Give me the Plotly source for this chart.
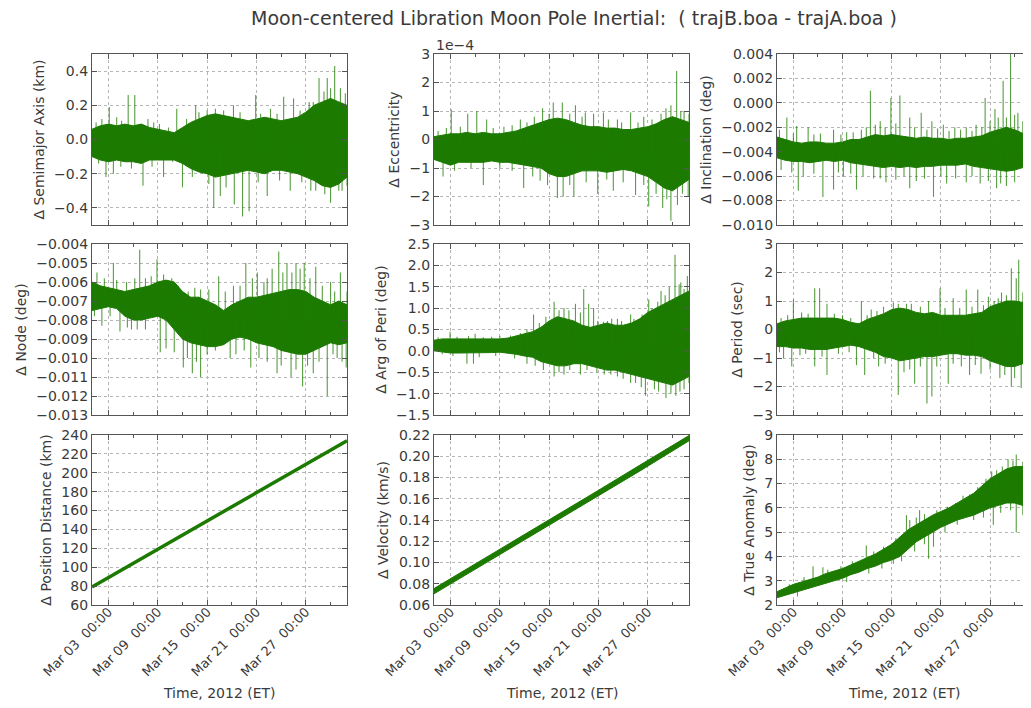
import pandas as pd
import plotly.graph_objects as go
from plotly.subplots import make_subplots

# ---------------- data ----------------
T0 = pd.Timestamp("2012-03-01")          # start of data
band_days = list(range(32))              # day offsets for envelope samples

# Semimajor axis (km)
sma_hi = [0.06, 0.08, 0.09, 0.08, 0.09, 0.08, 0.09, 0.07, 0.06, 0.05, 0.04, 0.07, 0.10, 0.12, 0.14, 0.15,
          0.14, 0.13, 0.12, 0.11, 0.12, 0.13, 0.12, 0.11, 0.12, 0.13, 0.16, 0.20, 0.22, 0.24, 0.22, 0.20]
sma_lo = [-0.10, -0.12, -0.13, -0.12, -0.13, -0.13, -0.14, -0.12, -0.12, -0.12, -0.12, -0.14, -0.17, -0.19, -0.20, -0.22,
          -0.21, -0.20, -0.19, -0.18, -0.19, -0.20, -0.18, -0.18, -0.19, -0.20, -0.22, -0.24, -0.27, -0.28, -0.26, -0.22]
sma_spike_days = [2.1, 4.4, 5.2, 10.3, 12.6, 17.2, 19.9, 21.7, 23.3, 24.5, 26.4, 27.6, 28.6, 29.5, 30.2,
                  1.7, 2.6, 6.2, 8.7, 11.0, 13.4, 14.8, 15.6, 17.3, 18.3, 19.1, 21.3, 24.1, 26.6, 29.0, 30.4,
                  0.5, 1.2, 3.0, 3.6, 6.8, 7.5, 8.2, 9.3, 11.5, 13.0, 14.0, 15.0, 16.0, 18.0, 20.5, 22.5, 25.3,
                  26.9, 28.2, 29.0, 30.8,
                  0.8, 3.5, 4.8, 7.3, 9.8, 12.2, 14.2, 16.3, 20.2, 22.8, 25.5, 27.2, 28.3, 30.0, 31.0]
sma_spike_vals = [0.19, 0.26, 0.26, 0.18, 0.20, 0.20, 0.26, 0.18, 0.25, 0.24, 0.22, 0.36, 0.36, 0.43, 0.30,
                  -0.22, -0.20, -0.27, -0.22, -0.28, -0.20, -0.40, -0.33, -0.38, -0.45, -0.42, -0.33, -0.30, -0.30, -0.37, -0.30,
                  0.10, 0.12, 0.13, 0.11, 0.12, 0.10, 0.09, 0.07, 0.12, 0.16, 0.17, 0.18, 0.17, 0.16, 0.15, 0.15, 0.17,
                  0.22, 0.28, 0.30, 0.27,
                  -0.14, -0.16, -0.17, -0.16, -0.13, -0.22, -0.26, -0.28, -0.25, -0.24, -0.25, -0.30, -0.32, -0.30, -0.27]

# Eccentricity (units of 1e-4)
ecc_hi = [0.10, 0.15, 0.20, 0.20, 0.25, 0.20, 0.25, 0.20, 0.20, 0.25, 0.30, 0.40, 0.50, 0.60, 0.70, 0.75,
          0.70, 0.60, 0.50, 0.45, 0.45, 0.40, 0.40, 0.35, 0.35, 0.40, 0.45, 0.55, 0.70, 0.80, 0.70, 0.60]
ecc_lo = [-0.70, -0.80, -0.90, -0.80, -0.80, -0.80, -0.80, -0.75, -0.80, -0.80, -0.85, -0.90, -0.95, -1.00, -1.20, -1.30,
          -1.30, -1.20, -1.10, -1.10, -1.10, -1.15, -1.10, -1.05, -1.10, -1.20, -1.30, -1.50, -1.70, -1.80, -1.60, -1.40]
ecc_spike_days = [2.1, 4.1, 5.2, 6.4, 10.5, 11.3, 13.2, 14.5, 15.6, 17.2, 18.4, 19.4, 20.6, 22.3, 23.9, 25.5, 27.6, 28.8, 29.5, 30.4,
                  1.1, 6.0, 10.9, 12.9, 15.0, 15.7, 17.0, 19.9, 21.8, 24.5, 26.1, 27.8, 28.8, 29.6, 30.9,
                  0.5, 1.5, 3.2, 7.2, 8.5, 9.5, 12.2, 14.0, 16.5, 18.0, 21.2, 22.8, 24.8, 26.5, 28.2, 30.0, 31.0,
                  2.5, 4.5, 8.0, 9.5, 12.0, 13.8, 16.5, 18.5, 21.0, 23.0, 25.5, 27.0, 28.3, 30.2]
ecc_spike_vals = [1.05, 0.90, 1.00, 0.70, 0.70, 0.60, 1.10, 1.30, 1.30, 1.20, 0.95, 0.90, 0.95, 0.70, 0.95, 0.80, 0.90, 1.20, 2.40, 1.00,
                  -1.30, -1.60, -1.70, -1.45, -2.05, -2.00, -2.00, -1.90, -1.80, -1.95, -2.35, -2.40, -2.85, -2.30, -2.00,
                  0.30, 0.40, 0.45, 0.40, 0.45, 0.50, 0.80, 0.90, 0.90, 0.80, 0.70, 0.60, 0.60, 0.70, 1.10, 1.00, 0.90,
                  -1.10, -1.00, -1.00, -1.10, -1.30, -1.60, -1.60, -1.50, -1.40, -1.50, -1.60, -1.90, -2.10, -1.90]

# Inclination (deg)
inc_hi = [-0.0028, -0.0030, -0.0032, -0.0033, -0.0032, -0.0032, -0.0033, -0.0033, -0.0032, -0.0030, -0.0030,
          -0.0028, -0.0026, -0.0027, -0.0026, -0.0027, -0.0028, -0.0029, -0.0028, -0.0029, -0.0029, -0.0030,
          -0.0029, -0.0029, -0.0028, -0.0027, -0.0024, -0.0022, -0.0020, -0.0022, -0.0025, -0.0027]
inc_lo = [-0.0045, -0.0047, -0.0048, -0.0048, -0.0049, -0.0048, -0.0047, -0.0048, -0.0047, -0.0049, -0.0050,
          -0.0051, -0.0052, -0.0053, -0.0052, -0.0053, -0.0052, -0.0053, -0.0052, -0.0052, -0.0051, -0.0051,
          -0.0051, -0.0050, -0.0052, -0.0053, -0.0054, -0.0055, -0.0056, -0.0055, -0.0053, -0.0052]
inc_spike_days = [1.2, 2.4, 3.8, 6.9, 8.5, 10.9, 11.4, 12.6, 13.9, 15.0, 16.2, 17.6, 18.9, 20.3, 21.7, 23.1, 24.3, 25.4, 26.6,
                  27.6, 28.5, 29.4, 30.4,
                  2.6, 5.6, 6.9, 8.1, 9.7, 12.6, 16.2, 17.0, 19.1, 20.7, 23.1, 24.8, 26.8, 28.0, 30.1, 30.7,
                  0.3, 2.0, 4.5, 5.3, 7.8, 9.3, 10.3, 12.0, 13.2, 14.5, 16.8, 18.3, 19.6, 21.0, 22.4, 23.8, 25.0,
                  26.0, 27.0, 28.0, 29.0, 30.0, 31.0,
                  0.5, 1.8, 3.2, 4.5, 7.5, 9.0, 10.5, 11.8, 13.3, 14.5, 15.5, 18.0, 20.0, 21.8, 23.8, 25.8, 27.3,
                  29.0, 31.0]
inc_spike_vals = [-0.0012, -0.0019, -0.0020, -0.0022, -0.0024, -0.0020, 0.0010, -0.0015, 0.0004, 0.0006, -0.0012, -0.0008,
                  -0.0015, -0.0018, -0.0020, -0.0020, -0.0018, 0.0004, -0.0005, 0.0018, 0.0040, -0.0008, -0.0012,
                  -0.0072, -0.0077, -0.0071, -0.0060, -0.0071, -0.0062, -0.0070, -0.0064, -0.0077, -0.0066, -0.0065,
                  -0.0066, -0.0070, -0.0068, -0.0090, -0.0085,
                  -0.0022, -0.0025, -0.0026, -0.0025, -0.0026, -0.0024, -0.0022, -0.0018, -0.0020, -0.0017, -0.0020,
                  -0.0022, -0.0021, -0.0023, -0.0022, -0.0023, -0.0020, -0.0015, -0.0012, -0.0012, -0.0010, -0.0015,
                  -0.0020,
                  -0.0055, -0.0057, -0.0060, -0.0058, -0.0057, -0.0058, -0.0060, -0.0062, -0.0065, -0.0063, -0.0060,
                  -0.0062, -0.0060, -0.0062, -0.0060, -0.0064, -0.0066, -0.0065, -0.0075]

# Node (deg)
node_hi = [-0.0060, -0.0062, -0.0063, -0.0064, -0.0065, -0.0064, -0.0063, -0.0062, -0.0060, -0.0059, -0.0060,
           -0.0065, -0.0068, -0.0068, -0.0070, -0.0072, -0.0075, -0.0072, -0.0070, -0.0068, -0.0068, -0.0067,
           -0.0066, -0.0065, -0.0064, -0.0064, -0.0065, -0.0068, -0.0070, -0.0072, -0.0070, -0.0072]
node_lo = [-0.0075, -0.0074, -0.0073, -0.0074, -0.0078, -0.0080, -0.0080, -0.0079, -0.0078, -0.0080, -0.0085,
           -0.0090, -0.0092, -0.0093, -0.0094, -0.0094, -0.0093, -0.0090, -0.0089, -0.0090, -0.0092, -0.0093,
           -0.0094, -0.0096, -0.0097, -0.0098, -0.0098, -0.0096, -0.0094, -0.0092, -0.0093, -0.0092]
node_spike_days = [0.6, 2.6, 5.2, 5.8, 7.9, 9.7, 11.7, 13.2, 15.4, 17.2, 18.7, 20.1, 20.9, 21.9, 22.7, 23.7, 24.8, 25.8,
                   27.2, 29.0, 30.2,
                   1.2, 3.4, 4.8, 8.3, 11.1, 12.2, 13.2, 16.8, 19.3, 22.5, 24.2, 25.6, 26.9, 28.6, 29.8, 30.9,
                   1.5, 3.0, 4.2, 6.5, 7.2, 8.7, 10.5, 12.5, 14.2, 16.2, 18.0, 19.5, 21.3, 23.2, 24.3, 25.3, 26.5,
                   28.0, 29.5, 31.0,
                   0.3, 2.2, 4.3, 5.5, 6.5, 9.0, 10.0, 11.6, 12.7, 14.0, 15.0, 17.5, 18.5, 20.3, 21.3, 23.0, 24.8,
                   26.2, 27.6, 29.3, 30.4]
node_spike_vals = [-0.0055, -0.0050, -0.0058, -0.0043, -0.0048, -0.0058, -0.0065, -0.0064, -0.0057, -0.0062, -0.0050,
                   -0.0055, -0.0060, -0.0053, -0.0044, -0.0050, -0.0050, -0.0050, -0.0052, -0.0060, -0.0055,
                   -0.0083, -0.0086, -0.0085, -0.0097, -0.0105, -0.0108, -0.0110, -0.0100, -0.0105, -0.0108,
                   -0.0110, -0.0115, -0.0108, -0.0120, -0.0100, -0.0105,
                   -0.0058, -0.0059, -0.0060, -0.0058, -0.0057, -0.0056, -0.0062, -0.0063, -0.0064, -0.0065, -0.0062,
                   -0.0058, -0.0058, -0.0055, -0.0055, -0.0053, -0.0058, -0.0062, -0.0065, -0.0065,
                   -0.0078, -0.0078, -0.0084, -0.0085, -0.0085, -0.0095, -0.0097, -0.0100, -0.0102, -0.0098, -0.0096,
                   -0.0098, -0.0096, -0.0100, -0.0102, -0.0104, -0.0106, -0.0104, -0.0102, -0.0098, -0.0102]

# Argument of periapsis (deg)
aop_hi = [0.25, 0.28, 0.28, 0.28, 0.28, 0.28, 0.27, 0.28, 0.28, 0.30, 0.35, 0.40, 0.45, 0.55, 0.70, 0.80,
          0.75, 0.70, 0.60, 0.55, 0.60, 0.65, 0.60, 0.60, 0.65, 0.75, 0.90, 1.00, 1.10, 1.20, 1.30, 1.40]
aop_lo = [0.00, -0.02, -0.05, -0.05, -0.05, -0.05, -0.04, -0.04, -0.03, -0.05, -0.08, -0.12, -0.15, -0.25, -0.30, -0.35,
          -0.35, -0.30, -0.30, -0.35, -0.40, -0.45, -0.45, -0.50, -0.55, -0.60, -0.65, -0.70, -0.75, -0.80, -0.70, -0.60]
aop_spike_days = [1.95, 5.0, 8.0, 12.1, 14.6, 15.8, 17.2, 18.2, 18.8, 19.4, 21.1, 22.3, 23.9, 26.1, 27.6, 28.6, 29.3, 30.0, 30.8,
                  4.0, 4.8, 11.3, 14.6, 15.8, 17.8, 20.7, 22.3, 23.9, 25.7, 26.8, 28.2, 29.4, 30.4,
                  0.5, 2.8, 4.2, 6.0, 7.0, 9.3, 10.5, 11.3, 12.8, 13.6, 15.2, 16.4, 17.8, 19.9, 20.6, 21.6, 22.8,
                  24.3, 25.3, 26.5, 27.2, 28.1, 29.8, 30.4,
                  1.0, 2.3, 5.5, 7.5, 9.8, 12.3, 13.3, 15.2, 16.5, 18.6, 19.8, 21.5, 23.0, 24.5, 25.2, 27.3, 28.8,
                  29.9, 31.0]
aop_spike_vals = [0.45, 0.40, 0.35, 0.85, 1.15, 1.00, 1.10, 1.45, 1.10, 1.00, 0.70, 0.75, 0.85, 1.20, 1.40, 1.50, 2.25, 1.60, 1.75,
                  -0.30, -0.30, -0.30, -0.60, -0.55, -0.55, -0.55, -0.60, -0.75, -1.05, -0.90, -1.10, -1.05, -0.90,
                  0.32, 0.33, 0.35, 0.32, 0.33, 0.36, 0.42, 0.50, 0.65, 0.80, 0.95, 0.95, 0.90, 0.70, 0.68, 0.75, 0.70,
                  0.75, 0.85, 1.00, 1.15, 1.30, 1.55, 1.45,
                  -0.08, -0.12, -0.15, -0.12, -0.18, -0.35, -0.45, -0.50, -0.45, -0.45, -0.50, -0.55, -0.65, -0.75,
                  -0.85, -0.95, -1.00, -0.95, -0.75]

# Period (sec)
per_hi = [0.20, 0.30, 0.35, 0.40, 0.40, 0.40, 0.40, 0.40, 0.35, 0.25, 0.20, 0.35, 0.45, 0.55, 0.70, 0.75,
          0.70, 0.60, 0.55, 0.60, 0.50, 0.50, 0.50, 0.50, 0.55, 0.60, 0.80, 0.90, 1.00, 1.00, 0.95, 0.90]
per_lo = [-0.60, -0.60, -0.65, -0.65, -0.70, -0.70, -0.70, -0.65, -0.60, -0.55, -0.60, -0.70, -0.80, -0.95, -1.00, -1.10,
          -1.05, -1.00, -0.95, -0.95, -0.90, -0.85, -0.85, -0.90, -0.90, -0.95, -1.10, -1.20, -1.30, -1.30, -1.20, -1.10]
per_spike_days = [2.0, 4.6, 5.2, 6.1, 10.3, 11.5, 14.2, 15.8, 18.5, 19.9, 21.5, 23.1, 24.5, 25.8, 27.4, 28.6, 29.2, 29.5, 30.6,
                  0.8, 1.8, 4.6, 6.1, 9.7, 10.7, 12.4, 14.8, 16.8, 18.3, 18.9, 20.9, 23.5, 24.9, 27.2, 28.6, 29.8, 30.7,
                  0.5, 1.3, 3.0, 3.8, 7.0, 8.0, 9.0, 11.0, 12.2, 13.0, 14.8, 16.4, 17.5, 20.5, 22.3, 23.8, 25.2,
                  26.5, 27.0, 28.0, 30.0, 31.0,
                  0.3, 2.8, 3.5, 5.5, 7.5, 8.8, 11.8, 13.2, 15.5, 16.2, 17.5, 19.5, 21.5, 22.5, 24.2, 26.0, 27.8,
                  29.0, 30.3]
per_spike_vals = [1.05, 1.45, 1.45, 0.90, 1.00, 0.70, 0.95, 0.90, 1.00, 1.45, 1.10, 1.40, 1.40, 1.15, 1.30, 2.15, 1.80, 2.45, 1.80,
                  -1.00, -1.30, -1.30, -1.60, -1.25, -1.60, -1.30, -2.30, -1.90, -2.60, -2.35, -1.90, -1.60, -1.55,
                  -1.70, -2.00, -2.05, -1.90,
                  0.40, 0.50, 0.60, 0.55, 0.55, 0.50, 0.40, 0.50, 0.65, 0.80, 0.90, 0.90, 0.80, 0.75, 0.75, 0.80, 0.85,
                  1.00, 1.10, 1.20, 1.30, 1.10,
                  -0.80, -0.90, -0.85, -0.95, -0.85, -0.80, -1.00, -1.20, -1.50, -1.40, -1.30, -1.30, -1.20, -1.30,
                  -1.25, -1.40, -1.60, -1.70, -1.60]

# Position distance (km) and velocity (km/s): narrow, nearly linear bands
lin_days = [0, 5, 10, 15, 20, 25, 31]
pos_vals = [79, 104, 129, 154, 179, 204, 234]
vel_hi = [0.0755, 0.0985, 0.1220, 0.1450, 0.1680, 0.1915, 0.2195]
vel_lo = [0.0705, 0.0935, 0.1165, 0.1395, 0.1625, 0.1860, 0.2145]

# True anomaly (deg)
ta_hi = [2.55, 2.70, 2.85, 2.95, 3.05, 3.15, 3.30, 3.40, 3.50, 3.65, 3.80, 3.95, 4.10, 4.30, 4.50, 4.80,
         5.10, 5.30, 5.50, 5.70, 5.85, 6.00, 6.20, 6.40, 6.60, 6.90, 7.20, 7.40, 7.60, 7.70, 7.70, 7.60]
ta_lo = [2.30, 2.40, 2.50, 2.60, 2.70, 2.80, 2.90, 3.00, 3.10, 3.25, 3.35, 3.50, 3.60, 3.75, 3.85, 4.00,
         4.30, 4.60, 4.80, 5.00, 5.20, 5.35, 5.50, 5.60, 5.70, 5.85, 6.00, 6.10, 6.20, 6.20, 6.10, 6.00]
ta_spike_days = [4.4, 5.6, 10.9, 15.8, 17.4, 22.7, 26.2, 28.2, 29.2, 30.0, 14.2, 18.5, 19.1, 26.4, 29.2, 30.6,
                 1.5, 3.3, 6.2, 7.8, 9.2, 11.8, 13.0, 14.5, 16.2, 17.0, 18.0, 19.5, 20.8, 21.8, 23.5, 24.5, 25.5,
                 26.8, 27.5, 28.8, 30.5,
                 2.5, 8.5, 11.2, 12.8, 15.2, 16.8, 18.0, 20.5, 22.0, 24.0, 25.2, 27.3, 28.5, 30.0, 31.0]
ta_spike_vals = [3.60, 3.55, 4.45, 5.70, 5.90, 6.50, 7.50, 8.00, 8.20, 7.90, 3.70, 3.90, 4.40, 5.30, 5.00, 5.60,
                 2.85, 3.15, 3.45, 3.60, 3.80, 4.20, 4.40, 4.75, 5.50, 5.60, 5.75, 5.90, 6.05, 6.20, 6.55, 6.85, 7.20,
                 7.55, 7.70, 7.95, 7.80,
                 2.35, 2.95, 3.30, 3.50, 3.80, 4.20, 4.50, 5.00, 5.30, 5.50, 5.60, 5.80, 5.90, 5.70, 5.80]

# Tick labels
x_tick_days = [2, 8, 14, 20, 26]
x_tick_text = ["Mar 03\u00a0 00:00", "Mar 09\u00a0 00:00", "Mar 15\u00a0 00:00", "Mar 21\u00a0 00:00", "Mar 27\u00a0 00:00"]

y_titles = ["Δ Semimajor Axis (km)", "Δ Eccentricity", "Δ Inclination (deg)",
            "Δ Node (deg)", "Δ Arg of Peri (deg)", "Δ Period (sec)",
            "Δ Position Distance (km)", "Δ Velocity (km/s)", "Δ True Anomaly (deg)"]
x_title = "Time, 2012 (ET)"
title_text = "Moon-centered Libration Moon Pole Inertial:\u00a0 ( trajB.boa - trajA.boa )"

# ---------------- figure ----------------
OFF = 8                      # page body margin of the html page
W, H = 1031 - OFF, 708 - OFF
GREEN = "#1c7a00"
SPIKE = "rgba(30,125,0,0.75)"
FONT = "DejaVu Sans"
TXT = "#3a3a3a"


def px_x(p):
    return (p - OFF) / W


def px_y(p):
    return 1 - (p - OFF) / H


def to_t(days):
    return [T0 + pd.Timedelta(days=d) for d in days]


fig = make_subplots(rows=3, cols=3)


def add_band(r, c, days, hi, lo):
    fig.add_trace(go.Scatter(x=to_t(days), y=lo, mode="lines", line=dict(color=GREEN, width=1),
                             showlegend=False, hoverinfo="skip"), row=r, col=c)
    fig.add_trace(go.Scatter(x=to_t(days), y=hi, mode="lines", line=dict(color=GREEN, width=1),
                             fill="tonexty", fillcolor=GREEN, showlegend=False, hoverinfo="skip"), row=r, col=c)


def add_spikes(r, c, hi, lo, sdays, svals):
    xs, ys = [], []
    for d, v in zip(sdays, svals):
        i = min(int(round(d)), len(hi) - 1)
        base = (hi[i] + lo[i]) / 2.0
        t = T0 + pd.Timedelta(days=d)
        xs += [t, t, None]
        ys += [base, v, None]
    fig.add_trace(go.Scatter(x=xs, y=ys, mode="lines", line=dict(color=SPIKE, width=1.1),
                             showlegend=False, hoverinfo="skip"), row=r, col=c)


noisy = [
    (1, 1, sma_hi, sma_lo, sma_spike_days, sma_spike_vals),
    (1, 2, ecc_hi, ecc_lo, ecc_spike_days, ecc_spike_vals),
    (1, 3, inc_hi, inc_lo, inc_spike_days, inc_spike_vals),
    (2, 1, node_hi, node_lo, node_spike_days, node_spike_vals),
    (2, 2, aop_hi, aop_lo, aop_spike_days, aop_spike_vals),
    (2, 3, per_hi, per_lo, per_spike_days, per_spike_vals),
    (3, 3, ta_hi, ta_lo, ta_spike_days, ta_spike_vals),
]
for r, c, hi, lo, sd, sv in noisy:
    add_band(r, c, band_days, hi, lo)
    add_spikes(r, c, hi, lo, sd, sv)

fig.add_trace(go.Scatter(x=to_t(lin_days), y=pos_vals, mode="lines", line=dict(color=GREEN, width=3.5),
                         showlegend=False, hoverinfo="skip"), row=3, col=1)
add_band(3, 2, lin_days, vel_hi, vel_lo)

# axes geometry (pixels of the reference)
cols_px = [(92, 347), (434, 689), (777, 1031)]
rows_px = [(54, 225), (244, 415), (435, 605)]

y_specs = [
    dict(range=[-0.5, 0.5], dtick=0.2, tickformat=".1f"),
    dict(range=[-3, 3], dtick=1, tickformat="d"),
    dict(range=[-0.010, 0.004], dtick=0.002, tickformat=".3f"),
    dict(range=[-0.013, -0.004], dtick=0.001, tickformat=".3f"),
    dict(range=[-1.5, 2.5], dtick=0.5, tickformat=".1f"),
    dict(range=[-3, 3], dtick=1, tickformat="d"),
    dict(range=[60, 240], dtick=20, tickformat="d"),
    dict(range=[0.06, 0.22], dtick=0.02, tickformat=".2f"),
    dict(range=[2, 9], dtick=1, tickformat="d"),
]

tick_font = dict(family=FONT, size=14, color=TXT)
axis_common = dict(showline=True, linecolor="#555555", linewidth=1.3, mirror="allticks",
                   ticks="inside", ticklen=5, tickwidth=1, tickcolor="#555555",
                   showgrid=True, gridcolor="#b5b5b5", griddash="dot", gridwidth=1,
                   zeroline=False, automargin=False)

for k in range(9):
    r, c = k // 3, k % 3
    n = k + 1
    xa = "xaxis" if n == 1 else f"xaxis{n}"
    ya = "yaxis" if n == 1 else f"yaxis{n}"
    x0, x1 = cols_px[c]
    y0, y1 = rows_px[r]
    fig.layout[xa].update(
        domain=[px_x(x0), min(px_x(x1), 1.0)],
        range=[T0, T0 + pd.Timedelta(days=31)],
        tickmode="array", tickvals=to_t(x_tick_days),
        ticktext=x_tick_text if r == 2 else [""] * len(x_tick_days),
        tickangle=-45, ticklabelstandoff=-7, tickfont=dict(family=FONT, size=13, color=TXT),
        minor=dict(tickmode="linear", tick0=T0 + pd.Timedelta(days=2), dtick=3 * 86400000,
                   ticks="inside", ticklen=3, tickcolor="#555555", showgrid=False),
        **axis_common)
    spec = y_specs[k]
    fig.layout[ya].update(
        domain=[px_y(y1), px_y(y0)],
        range=spec["range"], tickmode="linear", tick0=0, dtick=spec["dtick"], tickformat=spec["tickformat"],
        tickfont=tick_font,
        title=dict(text=y_titles[k], font=dict(family=FONT, size=14, color=TXT), standoff=6),
        **axis_common)

for c in range(3):
    fig.add_annotation(text=x_title, xref="paper", yref="paper", x=px_x((92 + 347) / 2 + c * 342.5),
                       y=px_y(693), xanchor="center", yanchor="middle", showarrow=False,
                       font=dict(family=FONT, size=14, color=TXT))

fig.add_annotation(text=title_text, xref="paper", yref="paper", x=px_x(574), y=px_y(18),
                   xanchor="center", yanchor="middle", showarrow=False,
                   font=dict(family=FONT, size=19, color=TXT))
fig.add_annotation(text="1e−4", xref="paper", yref="paper", x=px_x(434), y=px_y(45),
                   xanchor="left", yanchor="middle", showarrow=False,
                   font=dict(family=FONT, size=14, color=TXT))

fig.update_layout(template="none", width=W, height=H, margin=dict(l=0, r=0, t=0, b=0, autoexpand=False),
                  paper_bgcolor="white", plot_bgcolor="white", showlegend=False,
                  font=dict(family=FONT, color=TXT))

fig.write_html("out.html")
